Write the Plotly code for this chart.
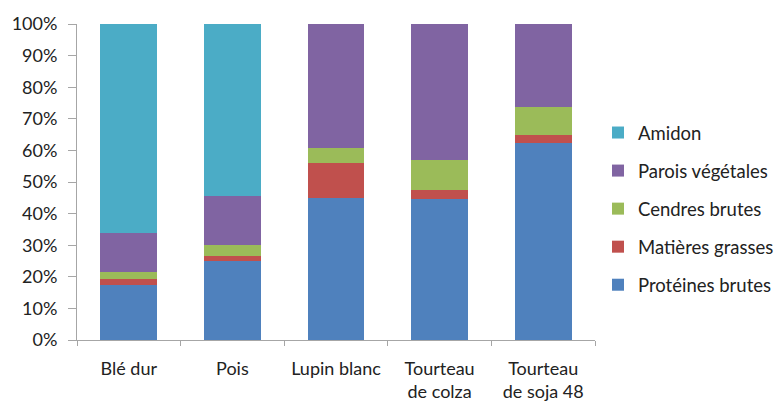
import plotly.graph_objects as go

categories = ["Blé dur", "Pois", "Lupin blanc", "Tourteau<br>de colza", "Tourteau<br>de soja 48"]
proteines = [17.3, 25.0, 44.9, 44.6, 62.3]
matieres_grasses = [2.0, 1.5, 11.0, 3.0, 2.7]
cendres = [2.3, 3.5, 4.9, 9.3, 8.7]
parois = [12.3, 15.6, 39.2, 43.1, 26.3]
amidon = [66.1, 54.4, 0.0, 0.0, 0.0]

series = [
    ("Protéines brutes", proteines, "#4F81BD"),
    ("Matières grasses", matieres_grasses, "#C0504D"),
    ("Cendres brutes", cendres, "#9BBB59"),
    ("Parois végétales", parois, "#8064A2"),
    ("Amidon", amidon, "#4BACC6"),
]

fig = go.Figure()
n = len(series)
for i, (name, vals, col) in enumerate(series):
    fig.add_trace(go.Bar(x=categories, y=vals, name=name, marker=dict(color=col, line=dict(width=0)),
                         legendgroup=name, legendrank=(n - i) * 10))

W, H = 775, 393
font_family = "Lato, Liberation Sans, Arial, sans-serif"
fig.update_layout(
    barmode="stack",
    barnorm="percent",
    bargap=0.45,
    width=W, height=H,
    margin=dict(l=69, r=188, t=16, b=61, autoexpand=False),
    paper_bgcolor="white", plot_bgcolor="white",
    font=dict(family=font_family, size=18, color="#222222"),
    legend=dict(traceorder="grouped", xref="container", yref="container",
                x=590 / W, y=1 - 106 / H, xanchor="left", yanchor="top",
                tracegroupgap=11, font=dict(size=18.5), itemwidth=30),
    xaxis=dict(showline=True, linecolor="#A6A6A6", linewidth=1, ticks="outside", tickson="boundaries",
               ticklen=5, tickcolor="#A6A6A6", showgrid=False, tickfont=dict(size=18), automargin=False,
               ticklabelstandoff=12),
    yaxis=dict(range=[0, 100], dtick=10, ticksuffix="%", showline=True, linecolor="#A6A6A6", linewidth=1,
               ticks="outside", ticklen=8, tickcolor="#A6A6A6", showgrid=False, zeroline=False,
               tickfont=dict(size=18), automargin=False, ticklabelstandoff=7),
)

fig.write_html("out.html")
